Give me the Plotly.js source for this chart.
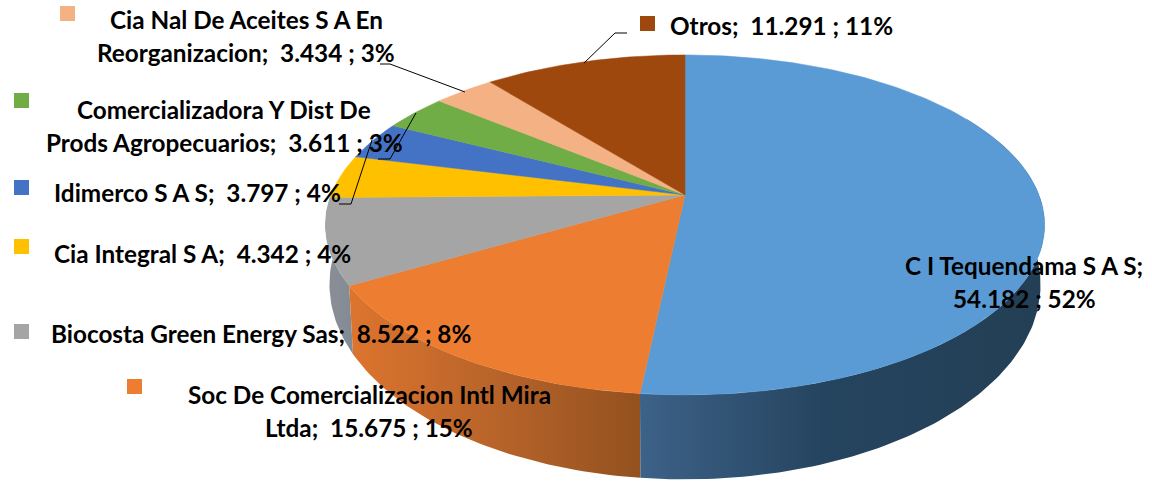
<!DOCTYPE html>
<html><head><meta charset="utf-8">
<script src="https://cdn.plot.ly/plotly-3.0.1.min.js"></script>
<style>html,body{margin:0;padding:0;background:#fff}#c{width:1152px;height:481px}</style>
</head><body><div id="c"></div>
<script>
// Data
const categories = ["C I Tequendama S A S","Soc De Comercializacion Intl Mira Ltda","Biocosta Green Energy Sas","Cia Integral S A","Idimerco S A S","Comercializadora Y Dist De Prods Agropecuarios","Cia Nal De Aceites S A En Reorganizacion","Otros"];
const values = [54182,15675,8522,4342,3797,3611,3434,11291];
const colors = ["#5B9BD5","#ED7D31","#A5A5A5","#FFC000","#4472C4","#70AD47","#F4B183","#9E480E"];

// Label lines: text and placement [text, x, y, anchor]
const labelLines = [
  ["C I Tequendama S A S;",1024,265,"center"],
  ["54.182 ; 52%",1024,298,"center"],
  ["Soc De Comercializacion Intl Mira",369,394,"center"],
  ["Ltda;\u00A0 15.675 ; 15%",369,427,"center"],
  ["Biocosta Green Energy Sas;\u00A0 8.522 ; 8%",50,333,"left"],
  ["Cia Integral S A;\u00A0 4.342 ; 4%",53,253,"left"],
  ["Idimerco S A S;\u00A0 3.797 ; 4%",53,192,"left"],
  ["Comercializadora Y Dist De",224,109,"center"],
  ["Prods Agropecuarios;\u00A0 3.611 ; 3%",224,142,"center"],
  ["Cia Nal De Aceites S A En",246,19,"center"],
  ["Reorganizacion;\u00A0 3.434 ; 3%",246,52,"center"],
  ["Otros;\u00A0 11.291 ; 11%",669,25,"left"]
];
// swatch top-left corners, same order as categories
const swatchX = [null,127,14,14,14,14,60,640];
const swatchY = [null,379,324,239,180,93,6,16];
// leader polylines
const leaderX = [[380,390,465],[378,390,416],[339,351,372],[627,615,584]];
const leaderY = [[64,64,92],[159,159,113],[204,204,140],[33,33,63]];

// Perspective projection of the pie disc
const top_ = {cx:685,cy:195,a:354,b:164.7,p:0.176};
const low_ = {cx:685,cy:250,a:350,b:189,p:0.176};
function proj(g,deg){
  const t=deg*Math.PI/180,u=Math.sin(t),v=-Math.cos(t),w=1-g.p*v;
  return [g.cx+g.a*u/w,g.cy+g.b*v/w];
}
function arc(g,from,to){
  const n=Math.max(2,Math.ceil(Math.abs(to-from))),pts=[];
  for(let i=0;i<=n;i++) pts.push(proj(g,from+(to-from)*i/n));
  return pts;
}
const total=values.reduce((a,b)=>a+b,0);
const edges=[0];values.forEach(v=>edges.push(edges[edges.length-1]+v/total*360));

const traces=[];
function wall(i,from,to,stops,x0,x1){
  const pts=arc(top_,from,to).concat(arc(low_,to,from));
  traces.push({type:"scatter",mode:"lines",x:pts.map(p=>p[0]).concat(pts[0][0]),y:pts.map(p=>p[1]).concat(pts[0][1]),
    fill:"toself",line:{width:0,color:"rgba(0,0,0,0)"},hoverinfo:"skip",showlegend:false,
    fillgradient:{type:"horizontal",colorscale:stops,start:x0,stop:x1}});
}
// side walls, back to front
wall(2,edges[2],edges[3],[[0,"#8b8f93"],[1,"#7f8a96"]],325,360);
wall(1,edges[1],edges[2],[[0,"#de752e"],[0.5,"#b8642a"],[1,"#93511f"]],345,640);
wall(0,edges[0]+60,edges[1],[[0,"#3d6288"],[0.45,"#25445f"],[1,"#233f55"]],640,1045);
// top faces
values.forEach((v,i)=>{
  const pts=[[top_.cx,top_.cy]].concat(arc(top_,edges[i],edges[i+1]));
  pts.push(pts[0]);
  traces.push({type:"scatter",mode:"lines",name:categories[i],x:pts.map(p=>p[0]),y:pts.map(p=>p[1]),
    fill:"toself",fillcolor:colors[i],line:{width:0.5,color:colors[i]},showlegend:false,hoverinfo:"name"});
});
// leaders
leaderX.forEach((xs,i)=>traces.push({type:"scatter",mode:"lines",x:xs,y:leaderY[i],line:{color:"#000",width:1},hoverinfo:"skip",showlegend:false}));

const shapes=[];
swatchX.forEach((x,i)=>{ if(x!==null) shapes.push({type:"rect",xref:"x",yref:"y",x0:x,x1:x+15,y0:swatchY[i],y1:swatchY[i]+15,fillcolor:colors[i],line:{width:0}}); });

const annotations=labelLines.map(l=>({text:"<b>"+l[0]+"</b>",x:l[1],y:l[2],xref:"x",yref:"y",xanchor:l[3],yanchor:"middle",showarrow:false,
  borderpad:0,font:{family:"Lato, Carlito, sans-serif",size:24.3,color:"#000"}}));

Plotly.newPlot("c",traces,{
  width:1152,height:481,margin:{l:0,r:0,t:0,b:0},paper_bgcolor:"#fff",plot_bgcolor:"#fff",showlegend:false,
  xaxis:{range:[0,1152],visible:false,fixedrange:true},
  yaxis:{range:[481,0],visible:false,fixedrange:true},
  shapes,annotations
},{displayModeBar:false,staticPlot:true});
</script></body></html>
